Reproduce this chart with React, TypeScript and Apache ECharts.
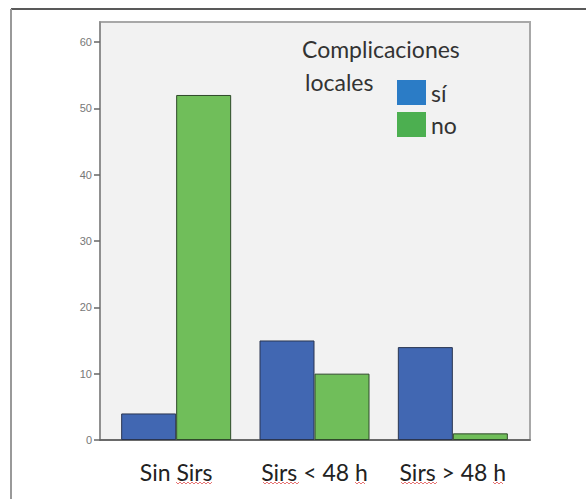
import React, { useEffect, useRef } from "react";
import * as echarts from "echarts";

const categories = ["Sin Sirs", "Sirs < 48 h", "Sirs > 48 h"];
const siValues = [4, 15, 14];
const noValues = [52, 10, 1];
const yTicks = [0, 10, 20, 30, 40, 50, 60];
const legendTitle = ["Complicaciones", "locales"];
const seriesNames = ["sí", "no"];

function zigzag(x0: number, x1: number, y: number) {
  const pts: number[][] = [];
  let up = true;
  for (let x = x0; x <= x1; x += 2) {
    pts.push([x, up ? y - 1 : y + 1]);
    up = !up;
  }
  return { type: "polyline", shape: { points: pts }, style: { stroke: "#e05050", lineWidth: 0.8, fill: null }, silent: true };
}

export default function App() {
  const ref = useRef<HTMLDivElement>(null);
  useEffect(() => {
    const chart = echarts.init(ref.current!, null, { renderer: "svg" });
    chart.setOption({
      animation: false,
      backgroundColor: "#ffffff",
      grid: [
        {
          left: 100,
          top: 22,
          right: 56,
          bottom: 59,
          show: true,
          backgroundColor: "#f2f2f2",
          borderColor: "#a8a8a8",
          borderWidth: 2,
        },
        { left: 107, top: 22, right: 64, bottom: 59 },
      ],
      legend: {
        data: [
          { name: seriesNames[0], itemStyle: { color: "#2b7cc6", borderWidth: 0 } },
          { name: seriesNames[1], itemStyle: { color: "#4caf50", borderWidth: 0 } },
        ],
        orient: "vertical",
        left: 392,
        top: 75,
        itemWidth: 29,
        itemHeight: 25,
        itemGap: 7,
        icon: "rect",
        textStyle: { fontFamily: "Lato", fontSize: 23, color: "#333" },
      },
      xAxis: [
        {
          gridIndex: 0,
          type: "category",
          data: categories,
          axisLine: { lineStyle: { color: "#555", width: 1.5 } },
          axisTick: { show: false },
          axisLabel: { show: false },
        },
        {
          gridIndex: 1,
          type: "category",
          data: categories,
          axisLine: { show: false },
          axisTick: { show: false },
          axisLabel: { interval: 0, hideOverlap: false, fontFamily: "Lato", fontSize: 23, color: "#222", margin: 20 },
        },
      ],
      yAxis: [
        {
          gridIndex: 0,
          type: "value",
          min: 0,
          max: 63,
          interval: 10,
          splitLine: { show: false },
          axisLine: { show: true, lineStyle: { color: "#888", width: 1.5 } },
          axisTick: { show: true, length: 6, customValues: yTicks, lineStyle: { color: "#666", width: 1.5 } },
          axisLabel: { customValues: yTicks, fontFamily: "Liberation Sans", fontSize: 11, color: "#777", margin: 8 },
        },
        {
          gridIndex: 1,
          type: "value",
          min: 0,
          max: 63,
          interval: 10,
          show: false,
          splitLine: { show: false },
        },
      ],
      series: [
        {
          name: seriesNames[0],
          type: "bar",
          xAxisIndex: 1,
          yAxisIndex: 1,
          data: siValues,
          barWidth: 55,
          barGap: "0%",
          itemStyle: { color: "#4167b2", borderColor: "#2a3550", borderWidth: 1 },
        },
        {
          name: seriesNames[1],
          type: "bar",
          xAxisIndex: 1,
          yAxisIndex: 1,
          data: noValues,
          barWidth: 55,
          barGap: "0%",
          itemStyle: { color: "#70be5a", borderColor: "#2f4a2a", borderWidth: 1 },
        },
      ],
      graphic: [
        { type: "line", shape: { x1: 11, y1: 9, x2: 586, y2: 9 }, style: { stroke: "#222", lineWidth: 1.5 }, silent: true },
        { type: "line", shape: { x1: 11, y1: 9, x2: 11, y2: 499 }, style: { stroke: "#999", lineWidth: 2 }, silent: true },
        { type: "text", left: 302, top: 37, style: { text: legendTitle[0], fontFamily: "Lato", fontSize: 23, fill: "#333" } },
        { type: "text", left: 305, top: 70, style: { text: legendTitle[1], fontFamily: "Lato", fontSize: 23, fill: "#333" } },
        zigzag(176, 213, 483),
        zigzag(263, 299, 483),
        zigzag(355, 366, 483),
        zigzag(401, 438, 483),
        zigzag(493, 504, 483),
      ],
    });
    return () => chart.dispose();
  }, []);
  return <div ref={ref} style={{ position: "fixed", left: 0, top: 0, width: 586, height: 499 }} />;
}
